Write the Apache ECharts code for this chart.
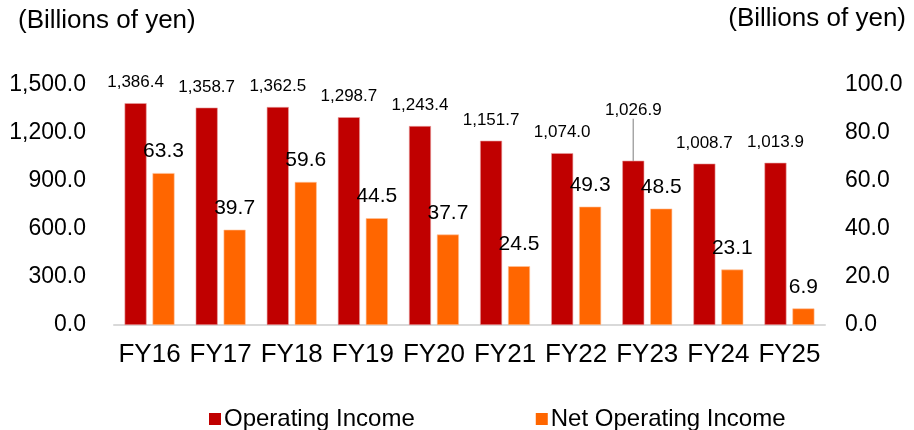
<!DOCTYPE html>
<html>
<head>
<meta charset="utf-8">
<script src="https://cdn.jsdelivr.net/npm/echarts@6/dist/echarts.min.js"></script>
<style>
  html, body { margin: 0; padding: 0; background: #fff; }
  #chart { width: 914px; height: 430px; }
</style>
</head>
<body>
<div id="chart"></div>
<script>
// Fiscal years on the category axis
const categories = ['FY16', 'FY17', 'FY18', 'FY19', 'FY20', 'FY21', 'FY22', 'FY23', 'FY24', 'FY25'];
// Operating income, billions of yen (left axis)
const operatingIncome = [1386.4, 1358.7, 1362.5, 1298.7, 1243.4, 1151.7, 1074.0, 1026.9, 1008.7, 1013.9];
// Net operating income, billions of yen (right axis)
const netOperatingIncome = [63.3, 39.7, 59.6, 44.5, 37.7, 24.5, 49.3, 48.5, 23.1, 6.9];
// Axis ranges
const leftAxis = { min: 0, max: 1500, interval: 300 };
const rightAxis = { min: 0, max: 100, interval: 20 };
const unitLabel = '(Billions of yen)';
// Year whose operating-income label is lifted and tied back with a leader line
const liftedLabelYear = 'FY23';

const FONT = '"Liberation Sans", Arial, sans-serif';

function fmt1(v) {
  const s = Number(v).toFixed(1);
  const parts = s.split('.');
  parts[0] = parts[0].replace(/\B(?=(\d{3})+(?!\d))/g, ',');
  return parts.join('.');
}

const liftedIndex = categories.indexOf(liftedLabelYear);
const operatingData = operatingIncome.map((v, i) =>
  i === liftedIndex
    ? { value: v, labelLine: { show: true, lineStyle: { color: '#a6a6a6', width: 1.5 } } }
    : { value: v }
);

const chart = echarts.init(document.getElementById('chart'), null, { renderer: 'canvas' });

chart.setOption({
  animation: false,
  backgroundColor: '#ffffff',
  textStyle: { fontFamily: FONT, color: '#000' },
  grid: { left: 114, right: 89, top: 85, bottom: 105, containLabel: false },
  graphic: [
    { type: 'text', left: 18, top: 8, style: { text: unitLabel, font: '26px ' + FONT, fill: '#000' } },
    { type: 'text', right: 8, top: 6, style: { text: unitLabel, font: '26px ' + FONT, fill: '#000' } }
  ],
  legend: {
    left: 204,
    top: 402,
    itemWidth: 12,
    itemHeight: 12,
    itemGap: 121,
    icon: 'rect',
    itemStyle: { borderWidth: 0 },
    textStyle: { fontSize: 24, fontFamily: FONT, color: '#000', padding: [0, 0, 0, -2] },
    data: ['Operating Income', 'Net Operating Income']
  },
  xAxis: {
    type: 'category',
    data: categories,
    axisLine: { show: true, lineStyle: { color: '#d9d9d9', width: 2 } },
    axisTick: { show: false },
    axisLabel: { interval: 0, fontSize: 26, color: '#000', fontFamily: FONT, margin: 17 }
  },
  yAxis: [
    {
      type: 'value',
      min: leftAxis.min, max: leftAxis.max, interval: leftAxis.interval,
      splitLine: { show: false },
      axisLine: { show: false },
      axisTick: { show: false },
      axisLabel: { fontSize: 23, color: '#000', fontFamily: FONT, margin: 28, formatter: fmt1 }
    },
    {
      type: 'value',
      min: rightAxis.min, max: rightAxis.max, interval: rightAxis.interval,
      splitLine: { show: false },
      axisLine: { show: false },
      axisTick: { show: false },
      axisLabel: { fontSize: 23, color: '#000', fontFamily: FONT, margin: 20, formatter: fmt1 }
    }
  ],
  series: [
    {
      name: 'Operating Income',
      type: 'bar',
      yAxisIndex: 0,
      data: operatingData,
      barWidth: 22,
      barGap: '27%',
      itemStyle: { color: '#C00000', borderColor: '#e8a0a0', borderWidth: 0.6 },
      label: {
        show: true, position: 'top', distance: 12,
        fontSize: 17, color: '#000', fontFamily: FONT,
        formatter: p => fmt1(p.value)
      },
      labelLayout: function (params) {
        if (params.dataIndex === liftedIndex) return { dy: -30 };
        return {};
      },
      labelLine: { show: false }
    },
    {
      name: 'Net Operating Income',
      type: 'bar',
      yAxisIndex: 1,
      data: netOperatingIncome,
      barWidth: 22,
      barGap: '27%',
      itemStyle: { color: '#FF6600', borderColor: '#ffc29a', borderWidth: 0.6 },
      label: {
        show: true, position: 'top', distance: 11,
        fontSize: 21, color: '#000', fontFamily: FONT,
        formatter: p => fmt1(p.value)
      }
    }
  ]
});
</script>
</body>
</html>
